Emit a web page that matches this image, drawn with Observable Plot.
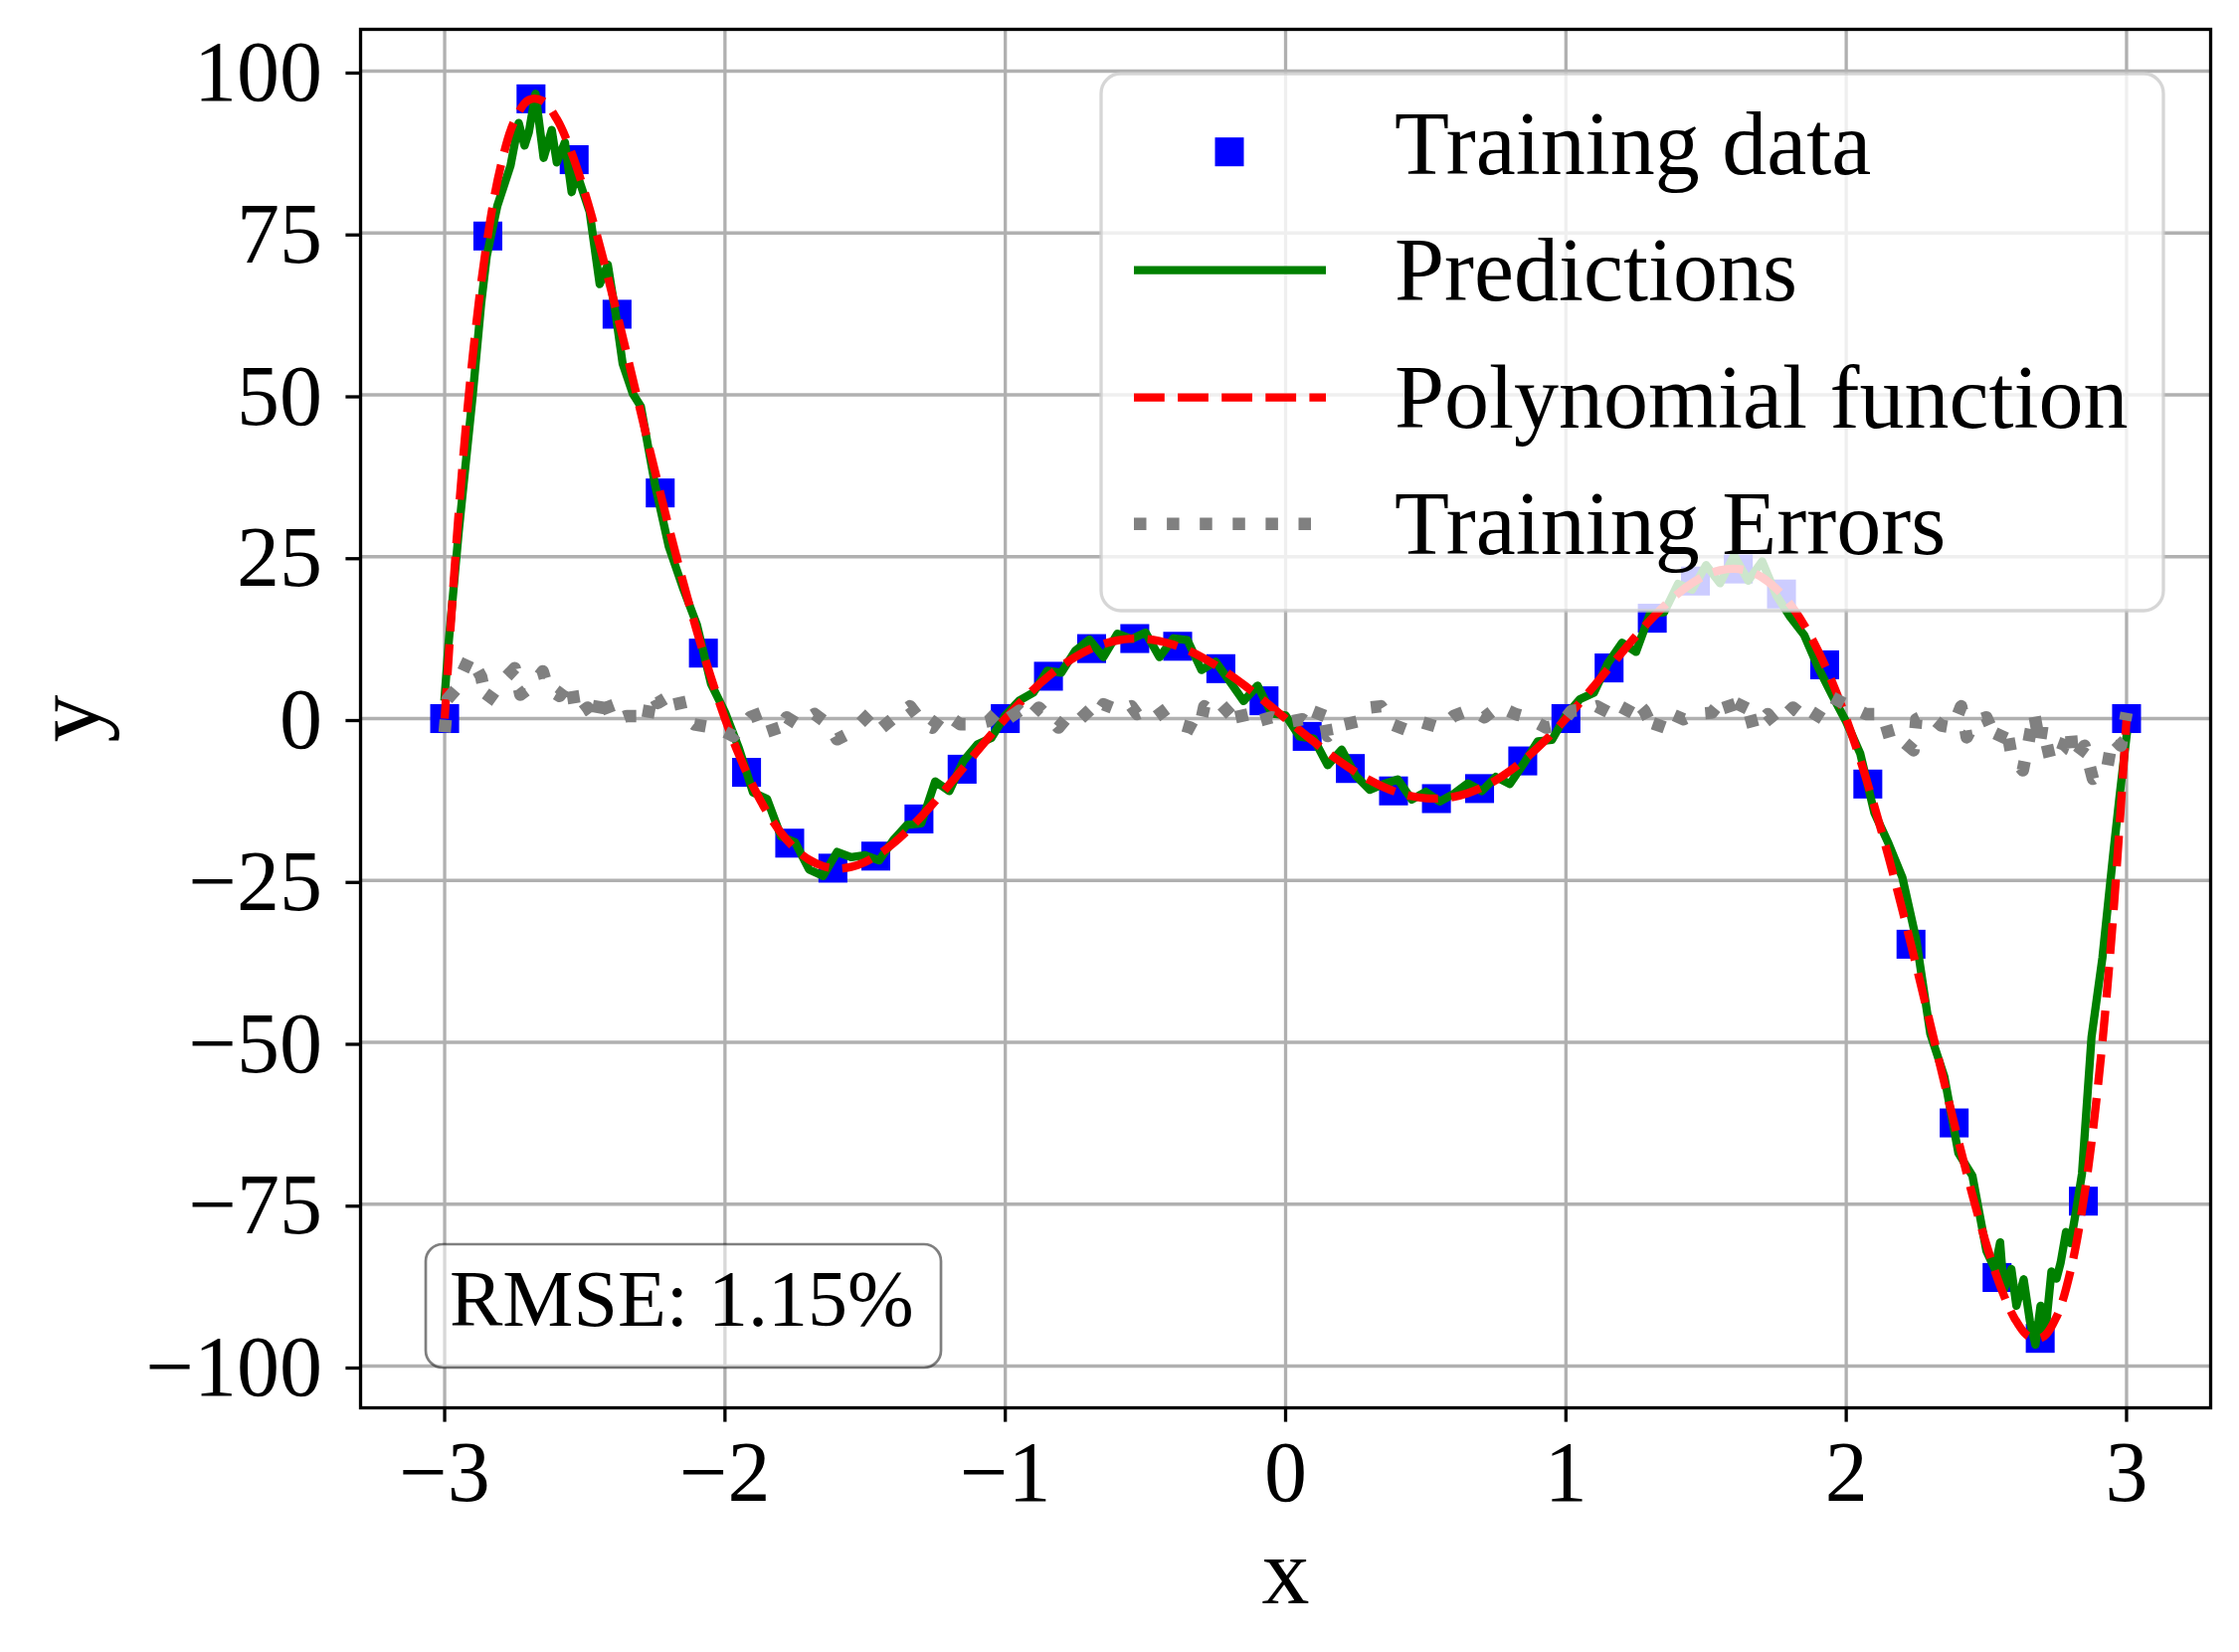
<!DOCTYPE html>
<html>
<head>
<meta charset="utf-8">
<script src="https://cdn.jsdelivr.net/npm/d3@7"></script>
<script src="https://cdn.jsdelivr.net/npm/@observablehq/plot@0.6"></script>
<style>
html, body { margin: 0; padding: 0; background: #fff; }
#wrap { position: relative; width: 2251px; height: 1661px; }
#wrap svg { position: absolute; left: 0; top: 0; }
</style>
</head>
<body>
<div id="wrap"></div>
<script>
// ---------- data ----------
const seriesNames = ["Training data", "Predictions", "Polynomial function", "Training Errors"];
const rmseLabel = "RMSE: 1.15%";
const xLabel = "x";
const yLabel = "y";
const xTicks = [-3, -2, -1, 0, 1, 2, 3];
const yTicks = [-100, -75, -50, -25, 0, 25, 50, 75, 100];

const trainX = [-3, -2.846, -2.692, -2.538, -2.385, -2.231, -2.077, -1.923, -1.769, -1.615,
  -1.462, -1.308, -1.154, -1, -0.846, -0.692, -0.538, -0.385, -0.231, -0.077,
  0.077, 0.231, 0.385, 0.538, 0.692, 0.846, 1, 1.154, 1.308, 1.462,
  1.615, 1.769, 1.923, 2.077, 2.231, 2.385, 2.538, 2.692, 2.846, 3];
const trainY = [0, 74.53, 95.72, 86.32, 62.45, 34.85, 10.11, -8.30, -19.24, -23.10,
  -21.24, -15.50, -7.82, 0, 6.54, 10.81, 12.36, 11.17, 7.71, 2.75,
  -2.75, -7.71, -11.17, -12.36, -10.81, -6.54, 0, 7.82, 15.50, 21.24,
  23.10, 19.24, 8.30, -10.11, -34.85, -62.45, -86.32, -95.72, -74.53, 0];

const polyX = [-3, -2.95, -2.9, -2.85, -2.8, -2.75, -2.7, -2.65, -2.6, -2.55, -2.5, -2.45, -2.4, -2.35, -2.3,
  -2.25, -2.2, -2.15, -2.1, -2.05, -2, -1.95, -1.9, -1.85, -1.8, -1.75, -1.7, -1.65, -1.6, -1.55,
  -1.5, -1.45, -1.4, -1.35, -1.3, -1.25, -1.2, -1.15, -1.1, -1.05, -1, -0.95, -0.9, -0.85, -0.8,
  -0.75, -0.7, -0.65, -0.6, -0.55, -0.5, -0.45, -0.4, -0.35, -0.3, -0.25, -0.2, -0.15, -0.1, -0.05,
  0, 0.05, 0.1, 0.15, 0.2, 0.25, 0.3, 0.35, 0.4, 0.45, 0.5, 0.55, 0.6, 0.65, 0.7,
  0.75, 0.8, 0.85, 0.9, 0.95, 1, 1.05, 1.1, 1.15, 1.2, 1.25, 1.3, 1.35, 1.4, 1.45,
  1.5, 1.55, 1.6, 1.65, 1.7, 1.75, 1.8, 1.85, 1.9, 1.95, 2, 2.05, 2.1, 2.15, 2.2,
  2.25, 2.3, 2.35, 2.4, 2.45, 2.5, 2.55, 2.6, 2.65, 2.7, 2.75, 2.8, 2.85, 2.9, 2.95, 3];
const polyY = [0, 31.788, 55.912, 73.432, 85.311, 92.420, 95.545, 95.391, 92.588, 87.696, 81.211, 73.567, 65.144, 56.269, 47.223,
  38.241, 29.521, 21.223, 13.476, 6.378, 0, -5.610, -10.424, -14.435, -17.651, -20.091, -21.791, -22.792, -23.147, -22.912,
  -22.148, -20.923, -19.302, -17.354, -15.147, -12.747, -10.219, -7.624, -5.021, -2.463, 0, 2.323, 4.468, 6.399, 8.090,
  9.517, 10.664, 11.519, 12.077, 12.337, 12.305, 11.990, 11.406, 10.572, 9.511, 8.248, 6.812, 5.236, 3.551, 1.794,
  0, -1.794, -3.551, -5.236, -6.812, -8.248, -9.511, -10.572, -11.406, -11.990, -12.305, -12.337, -12.077, -11.519, -10.664,
  -9.517, -8.090, -6.399, -4.468, -2.323, 0, 2.463, 5.021, 7.624, 10.219, 12.747, 15.147, 17.354, 19.302, 20.923,
  22.148, 22.912, 23.147, 22.792, 21.791, 20.091, 17.651, 14.435, 10.424, 5.610, 0, -6.378, -13.476, -21.223, -29.521,
  -38.241, -47.223, -56.269, -65.144, -73.567, -81.211, -87.696, -92.588, -95.391, -95.545, -92.420, -85.311, -73.432, -55.912, -31.788, 0];

const predX = [-3, -2.986, -2.95, -2.9, -2.87, -2.85, -2.812, -2.765, -2.736, -2.715, -2.7, -2.676, -2.647, -2.618, -2.6,
  -2.571, -2.547, -2.53, -2.483, -2.447, -2.418, -2.39, -2.365, -2.329, -2.3, -2.25, -2.2, -2.15, -2.1, -2.05,
  -2, -1.95, -1.9, -1.85, -1.8, -1.75, -1.7, -1.65, -1.6, -1.55, -1.5, -1.45, -1.4, -1.35, -1.3,
  -1.25, -1.2, -1.15, -1.1, -1.05, -1, -0.95, -0.9, -0.85, -0.8, -0.75, -0.7, -0.65, -0.6, -0.55,
  -0.5, -0.45, -0.4, -0.35, -0.3, -0.25, -0.2, -0.15, -0.1, -0.05, 0, 0.05, 0.1, 0.15, 0.2,
  0.25, 0.3, 0.35, 0.4, 0.45, 0.5, 0.55, 0.6, 0.65, 0.7, 0.75, 0.8, 0.85, 0.9, 0.95,
  1, 1.05, 1.1, 1.15, 1.2, 1.25, 1.3, 1.35, 1.4, 1.45, 1.5, 1.55, 1.6, 1.65, 1.7,
  1.75, 1.8, 1.85, 1.9, 1.95, 2, 2.05, 2.1, 2.15, 2.2, 2.25, 2.3, 2.35, 2.4, 2.45,
  2.5, 2.53, 2.549, 2.562, 2.589, 2.607, 2.633, 2.655, 2.675, 2.693, 2.71, 2.732, 2.75, 2.765, 2.784,
  2.8, 2.82, 2.841, 2.875, 2.914, 2.953, 2.975, 3];
const predY = [3.4, 11.6, 28.8, 49.9, 64.0, 71.4, 79.2, 85.4, 92.0, 88.5, 90.5, 96.5, 86.6, 90.9, 85.9,
  89.0, 81.3, 84.4, 78.3, 67.1, 70.1, 62.5, 54.8, 50.2, 48.2, 36.2, 26.5, 20.2, 14.5, 5.4,
  1.0, -4.6, -11.4, -12.4, -18.2, -19.1, -23.3, -24.3, -20.6, -21.4, -21.1, -21.9, -18.8, -16.4, -16.2,
  -9.7, -11.2, -6.6, -4.0, -3.0, 0.5, 2.8, 4.0, 7.4, 7.1, 10.5, 12.2, 9.5, 13.1, 12.3,
  13.3, 9.5, 12.4, 12.1, 7.5, 8.8, 5.8, 2.7, 5.1, 0.8, 0.5, -2.8, -3.1, -7.2, -4.8,
  -8.8, -11.0, -10.1, -9.4, -12.5, -11.3, -12.8, -11.6, -10.0, -11.2, -9.0, -10.1, -6.9, -3.5, -3.3,
  0.5, 3.0, 4.0, 8.6, 11.7, 10.3, 16.2, 16.4, 20.8, 19.9, 23.7, 20.9, 25.2, 21.3, 24.3,
  19.1, 15.7, 12.9, 7.9, 3.6, -0.5, -5.4, -14.5, -19.2, -24.5, -34.2, -48.7, -55.3, -67.1, -70.6,
  -82.2, -85.0, -80.9, -88.2, -85.0, -90.7, -86.6, -93.0, -96.7, -90.7, -95.0, -85.4, -86.5, -84.0, -79.3,
  -81.0, -76.0, -70.3, -49.2, -36.9, -20.7, -12.0, -2.7];

const errX = [-3, -2.99, -2.96, -2.94, -2.91, -2.87, -2.85, -2.8, -2.75, -2.73, -2.69, -2.65, -2.63, -2.59, -2.55,
  -2.53, -2.49, -2.46, -2.44, -2.4, -2.35, -2.31, -2.28, -2.26, -2.24, -2.17, -2.15, -2.11, -2.02, -1.97,
  -1.91, -1.85, -1.82, -1.78, -1.74, -1.68, -1.63, -1.6, -1.55, -1.48, -1.44, -1.39, -1.34, -1.29, -1.26,
  -1.22, -1.16, -1.11, -1.06, -1.02, -0.99, -0.95, -0.92, -0.88, -0.82, -0.81, -0.76, -0.73, -0.69, -0.65,
  -0.59, -0.55, -0.53, -0.46, -0.42, -0.38, -0.34, -0.31, -0.29, -0.24, -0.17, -0.15, -0.1, -0.05, 0,
  0.06, 0.1, 0.13, 0.15, 0.19, 0.26, 0.3, 0.34, 0.38, 0.44, 0.49, 0.55, 0.6, 0.66, 0.71,
  0.76, 0.82, 0.86, 0.93, 0.98, 1.02, 1.07, 1.11, 1.2, 1.24, 1.28, 1.32, 1.35, 1.42, 1.46,
  1.52, 1.57, 1.6, 1.64, 1.67, 1.72, 1.75, 1.81, 1.84, 1.88, 1.94, 2.01, 2.07, 2.13, 2.16,
  2.2, 2.24, 2.25, 2.29, 2.34, 2.38, 2.41, 2.43, 2.46, 2.5, 2.54, 2.57, 2.59, 2.63, 2.65,
  2.67, 2.69, 2.7, 2.73, 2.77, 2.8, 2.81, 2.85, 2.88, 2.93, 2.95, 2.98, 3];
const errY = [-2.1, 3.0, 4.5, 6.8, 9.6, 6.5, 2.5, 5.5, 7.8, 3.7, 5.0, 7.3, 4.5, 3.5, 5.8,
  0.4, 1.7, -0.6, 4.2, -0.4, 0.4, 0.4, -0.9, 4.0, 2.4, 4.2, 0.4, -0.9, -1.6, -2.7,
  0.2, 1.2, -2.7, 0.2, -0.9, 0.7, -0.9, -3.2, -2.1, 0.9, -1.4, 0.4, 1.9, -0.9, -1.4,
  0.9, -0.9, -0.9, -0.4, 1.4, 0.0, 1.2, -0.1, 1.7, -0.9, -1.4, 1.2, 1.4, -0.4, 2.2,
  1.2, 1.9, 0.7, 1.9, -0.4, -0.9, -1.4, -2.1, 1.9, 0.2, 3.0, -0.9, -0.4, 0.2, -0.6,
  -0.1, -1.4, 1.9, -2.7, -1.1, -0.4, 1.7, 1.9, -0.9, -1.9, -0.6, -1.4, 0.4, 1.4, 0.2,
  1.9, 0.7, 0.2, -1.4, -0.9, 1.2, 1.4, 1.9, -0.1, 3.2, 1.2, -2.4, 1.2, -0.1, 0.7,
  0.9, 3.5, -0.4, 3.2, -1.6, 0.7, -0.9, 1.7, 0.7, -0.6, 3.5, 1.9, 0.7, 0.7, -3.7,
  -3.4, -4.9, -0.1, 0.7, -1.1, -1.4, 1.9, -2.9, -0.4, 0.2, -3.7, -0.9, -5.7, -8.0, -3.7,
  0.9, -3.9, -1.1, -6.7, -4.9, -1.4, -6.5, -4.2, -9.3, -7.8, -2.9, -4.2, 0.9];

// ---------- tables built from the arrays ----------
const train = trainX.map((x, i) => ({x, y: trainY[i]}));
const poly = polyX.map((x, i) => ({x, y: polyY[i]}));
const pred = predX.map((x, i) => ({x, y: predY[i]}));
const errs = errX.map((x, i) => ({x, y: errY[i]}));

const fmt = d => (d < 0 ? "\u2212" + Math.abs(d) : String(d));
const FONT = "'Liberation Serif', 'DejaVu Serif', serif";
const GRID = "#b0b0b0";

const chart = Plot.plot({
  width: 2251,
  height: 1661,
  marginLeft: 362,
  marginRight: 29,
  marginTop: 29,
  marginBottom: 246,
  x: {domain: [-3.3, 3.3]},
  y: {domain: [-106.45, 106.45]},
  style: {fontFamily: FONT, background: "white", color: "black"},
  marks: [
    Plot.gridX(xTicks, {stroke: GRID, strokeOpacity: 1, strokeWidth: 3.3}),
    Plot.gridY(yTicks, {stroke: GRID, strokeOpacity: 1, strokeWidth: 3.3}),
    Plot.dot(train, {x: "x", y: "y", symbol: "square", r: 16.4, fill: "#0000ff", stroke: null}),
    Plot.line(pred, {x: "x", y: "y", stroke: "#008000", strokeWidth: 8.3, strokeLinejoin: "round", strokeLinecap: "square"}),
    Plot.line(poly, {x: "x", y: "y", stroke: "#ff0000", strokeWidth: 8.3, strokeDasharray: "30.8,13.3", strokeLinecap: "butt", curve: "catmull-rom"}),
    Plot.line(errs, {x: "x", y: "y", stroke: "#808080", strokeWidth: 12.5, strokeDasharray: "12.5,20.6", strokeLinecap: "butt", strokeLinejoin: "round"}),
    Plot.frame({stroke: "black", strokeWidth: 3.3}),
    Plot.axisX(xTicks, {tickSize: 14.6, tickPadding: 17.5, strokeWidth: 3.3, fontSize: 86, tickFormat: fmt, label: null}),
    Plot.axisY(yTicks, {tickSize: 14.6, tickPadding: 24, strokeWidth: 3.3, fontSize: 86, tickFormat: fmt, label: null, dy: 2}),
    Plot.text([xLabel], {text: d => d, frameAnchor: "bottom", lineAnchor: "middle", textAnchor: "middle", dy: 166, fontSize: 96}),
    Plot.text([yLabel], {text: d => d, frameAnchor: "left", lineAnchor: "middle", textAnchor: "middle", rotate: -90, dx: -293.7, fontSize: 96})
  ]
});
document.getElementById("wrap").appendChild(chart);

// ---------- legend and annotation box (overlay, drawn above the data like matplotlib) ----------
const ov = d3.select("#wrap").append("svg")
  .attr("width", 2251).attr("height", 1661)
  .style("pointer-events", "none")
  .style("font-family", FONT);

ov.append("rect")
  .attr("x", 1107).attr("y", 74).attr("width", 1068).attr("height", 540).attr("rx", 20)
  .attr("fill", "white").attr("fill-opacity", 0.8)
  .attr("stroke", "#cccccc").attr("stroke-opacity", 0.8).attr("stroke-width", 3.3);

const rowBase = [174.7, 302.3, 429.8, 557.3];
const rowMid = [152.7, 271.6, 399.7, 526.7];
const hx0 = 1140, hx1 = 1333;

// handles
ov.append("rect").attr("x", 1236 - 14.5).attr("y", rowMid[0] - 14.5).attr("width", 29).attr("height", 29).attr("fill", "#0000ff");
ov.append("line").attr("x1", hx0).attr("x2", hx1).attr("y1", rowMid[1]).attr("y2", rowMid[1])
  .attr("stroke", "#008000").attr("stroke-width", 8.3);
ov.append("line").attr("x1", hx0).attr("x2", hx1).attr("y1", rowMid[2]).attr("y2", rowMid[2])
  .attr("stroke", "#ff0000").attr("stroke-width", 8.3).attr("stroke-dasharray", "30.8,13.3");
ov.append("line").attr("x1", hx0).attr("x2", hx1).attr("y1", rowMid[3]).attr("y2", rowMid[3])
  .attr("stroke", "#808080").attr("stroke-width", 12.5).attr("stroke-dasharray", "12.5,20.6");

ov.selectAll("text.leg").data(seriesNames).join("text")
  .attr("class", "leg")
  .attr("x", 1402).attr("y", (d, i) => rowBase[i])
  .attr("font-size", 90).attr("fill", "black")
  .text(d => d);

// RMSE box
ov.append("rect")
  .attr("x", 428).attr("y", 1251).attr("width", 518).attr("height", 124).attr("rx", 17)
  .attr("fill", "white").attr("fill-opacity", 0.5)
  .attr("stroke", "black").attr("stroke-opacity", 0.5).attr("stroke-width", 2.7);
ov.append("text").attr("x", 452).attr("y", 1333).attr("font-size", 80).attr("fill", "black").text(rmseLabel);
</script>
</body>
</html>
